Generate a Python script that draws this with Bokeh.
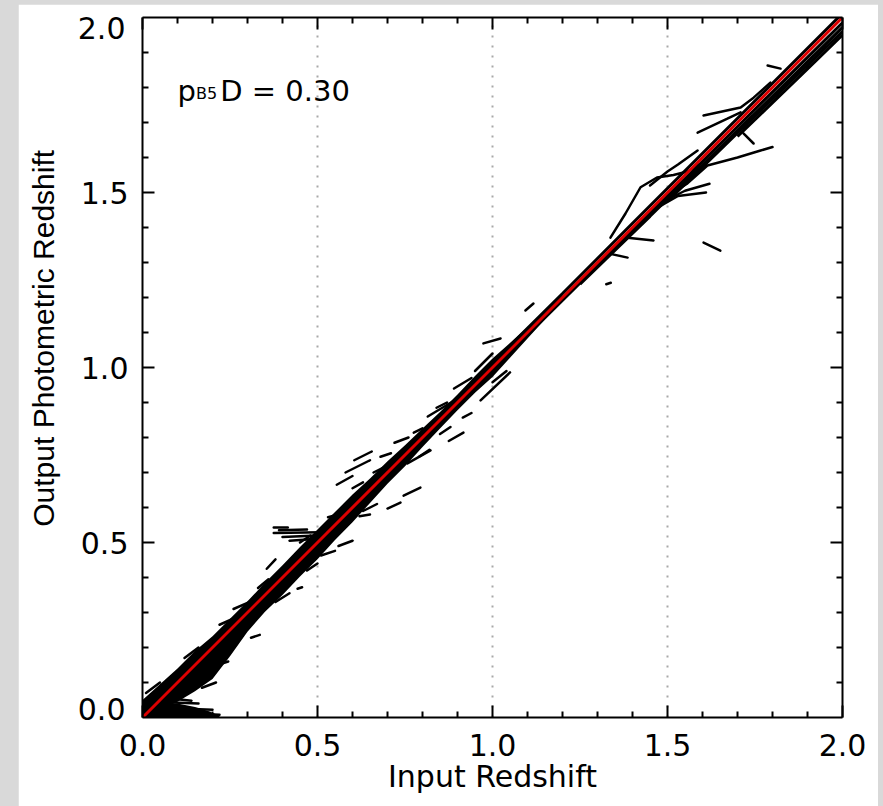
from bokeh.plotting import figure
from bokeh.models import (LinearAxis, FixedTicker, NumeralTickFormatter, Label,
                          CustomJSTickFormatter, Range1d)
from bokeh.layouts import column
from bokeh.embed import file_html
from bokeh.resources import INLINE

# ---------------- data ----------------
x_major = [0.0, 0.5, 1.0, 1.5, 2.0]
x_minor = [0.1, 0.2, 0.3, 0.4, 0.6, 0.7, 0.8, 0.9, 1.1, 1.2, 1.3, 1.4, 1.6, 1.7, 1.8, 1.9]
y_major = [0.5, 1.0, 1.5]
y_minor = [0.1, 0.2, 0.3, 0.4, 0.6, 0.7, 0.8, 0.9, 1.1, 1.2, 1.3, 1.4, 1.6, 1.7, 1.8, 1.9]
grid_x = [0.5, 1.0, 1.5]

# one-to-one reference line
diag_x = [0.0, 2.0]
diag_y = [0.0, 2.0]

# dense scatter band (upper / lower envelope)
band_x = [0.00, 0.05, 0.10, 0.15, 0.20, 0.25, 0.30, 0.35, 0.40, 0.45, 0.50, 0.55, 0.60,
          0.65, 0.70, 0.75, 0.80, 0.85, 0.90, 0.95, 1.00, 1.05, 1.10, 1.15, 1.20]
band_upper = [0.05, 0.095, 0.14, 0.19, 0.232, 0.282, 0.332, 0.385, 0.435, 0.487, 0.537, 0.587, 0.637,
              0.683, 0.732, 0.778, 0.826, 0.873, 0.923, 0.976, 1.026, 1.07, 1.115, 1.16, 1.207]
band_lower = [0.00, 0.02, 0.045, 0.075, 0.11, 0.175, 0.245, 0.302, 0.35, 0.403, 0.452, 0.507, 0.558,
              0.613, 0.668, 0.718, 0.773, 0.826, 0.878, 0.928, 0.973, 1.028, 1.083, 1.138, 1.192]

# low-redshift fan of outliers near zero output
fan_x = [0.00, 0.05, 0.10, 0.15, 0.19, 0.22]
fan_top = [0.035, 0.04, 0.04, 0.03, 0.018, 0.005]
fan_bottom = [0.0, 0.0, 0.0, 0.0, 0.0, 0.0]

# isolated streaks (x0, y0) -> (x1, y1)
seg_x0 = [0.01, 0.22, 0.26, 0.355, 0.31, 0.22, 0.443, 0.51, 0.375, 0.375, 0.40, 0.555, 0.58, 0.605,
          0.70, 0.746, 0.757, 0.875, 0.915, 0.72, 0.775, 0.815, 0.966, 1.094, 0.974, 0.89,
          1.325, 1.386, 1.33, 1.603, 1.717, 1.786, 0.62, 0.56,
          0.03, 0.05, 0.07, 0.10, 0.12, 0.17, 0.33, 0.38, 0.45, 0.47, 0.60, 0.63, 0.66, 0.84, 0.85,
          0.95, 1.00, 0.42, 0.39, 0.53, 0.68, 0.79]
seg_y0 = [0.07, 0.265, 0.31, 0.425, 0.228, 0.152, 0.368, 0.463, 0.543, 0.527, 0.516, 0.665, 0.70, 0.735,
          0.597, 0.634, 0.726, 0.79, 0.857, 0.785, 0.814, 0.86, 0.906, 1.163, 1.069, 0.94,
          1.238, 1.371, 1.326, 1.357, 1.669, 1.863, 0.575, 0.49,
          0.045, 0.028, 0.014, 0.052, 0.17, 0.085, 0.37, 0.33, 0.50, 0.42, 0.655, 0.59, 0.70, 0.885, 0.81,
          0.99, 0.958, 0.505, 0.535, 0.572, 0.745, 0.745]
seg_x1 = [0.05, 0.28, 0.31, 0.38, 0.335, 0.245, 0.456, 0.55, 0.415, 0.51, 0.50, 0.60, 0.65, 0.655,
          0.737, 0.794, 0.823, 0.917, 0.94, 0.76, 0.80, 0.89, 1.05, 1.117, 1.023, 0.94,
          1.338, 1.46, 1.386, 1.651, 1.746, 1.823, 0.65, 0.60,
          0.16, 0.20, 0.22, 0.14, 0.16, 0.21, 0.36, 0.42, 0.48, 0.50, 0.63, 0.67, 0.69, 0.87, 0.88,
          1.00, 1.04, 0.49, 0.47, 0.56, 0.71, 0.82]
seg_y1 = [0.10, 0.292, 0.332, 0.452, 0.236, 0.16, 0.372, 0.476, 0.543, 0.529, 0.52, 0.69, 0.735, 0.76,
          0.614, 0.657, 0.763, 0.814, 0.87, 0.80, 0.826, 0.905, 0.986, 1.183, 1.083, 0.97,
          1.242, 1.363, 1.314, 1.334, 1.64, 1.854, 0.58, 0.505,
          0.04, 0.022, 0.008, 0.048, 0.2, 0.1, 0.395, 0.355, 0.52, 0.44, 0.672, 0.61, 0.715, 0.9, 0.83,
          1.04, 0.99, 0.51, 0.537, 0.58, 0.755, 0.765]

# high-redshift tracks and branches
track_xs = [
    [1.05, 1.20, 1.40, 1.60, 1.80, 2.00],
    [1.10, 1.30, 1.50, 1.70, 1.90, 2.00],
    [1.25, 1.45, 1.65, 1.85, 2.00],
    [1.50, 1.70, 1.90, 2.00],
    [1.70, 1.90, 2.00],
]
track_ys = [
    [1.063, 1.211, 1.412, 1.612, 1.812, 2.012],
    [1.093, 1.291, 1.490, 1.688, 1.886, 1.985],
    [1.238, 1.432, 1.628, 1.824, 1.972],
    [1.475, 1.670, 1.864, 1.960],
    [1.660, 1.853, 1.950],
]
branch_xs = [
    [1.337, 1.38, 1.423, 1.47, 1.517, 1.557, 1.59],
    [1.45, 1.50, 1.53, 1.586],
    [1.586, 1.671, 1.709],
    [1.603, 1.709, 1.746, 1.794],
    [1.50, 1.557, 1.614, 1.70, 1.766, 1.80],
    [1.46, 1.53, 1.61],
    [1.48, 1.55, 1.62],
]
branch_ys = [
    [1.371, 1.44, 1.515, 1.543, 1.55, 1.56, 1.58],
    [1.52, 1.56, 1.58, 1.62],
    [1.671, 1.711, 1.729],
    [1.72, 1.743, 1.771, 1.814],
    [1.49, 1.526, 1.577, 1.60, 1.62, 1.63],
    [1.45, 1.49, 1.50],
    [1.47, 1.505, 1.525],
]

# ---------------- figure ----------------
FONT_H = "DejaVu Sans"        # horizontal texts (the original is horizontally widened)
FONT_V = "Liberation Sans"    # rotated y-axis title

p = figure(width=860, height=802, x_range=(0, 2), y_range=(0, 2),
           output_backend="svg", toolbar_location=None,
           min_border_left=124, min_border_right=36, min_border_top=13, min_border_bottom=89,
           border_fill_color="white", background_fill_color="white",
           outline_line_color=None, x_axis_location=None, y_axis_location=None)
p.margin = (4, 5, 0, 18)

# the end labels (0.0 / 2.0) of the y axis are pulled inside the frame span in the original;
# they come from a label-only axis on a slightly shifted copy of the y range
p.extra_y_ranges = {"yend": Range1d(start=0.0286, end=2.0286)}

p.ygrid.visible = False
p.xgrid.ticker = FixedTicker(ticks=grid_x)
p.xgrid.grid_line_color = "#a8a8a8"
p.xgrid.grid_line_width = 2
p.xgrid.grid_line_dash = "2 8"


def style_axis(ax, show_labels):
    ax.major_tick_in = 12
    ax.major_tick_out = 0
    ax.minor_tick_in = 6
    ax.minor_tick_out = 0
    ax.axis_line_width = 2
    ax.major_tick_line_width = 2
    ax.minor_tick_line_width = 2
    ax.axis_line_color = "black"
    ax.major_tick_line_color = "black"
    ax.minor_tick_line_color = "black"
    ax.major_label_text_font = FONT_H
    ax.major_label_text_color = "black"
    ax.major_label_text_font_size = "30px"
    ax.axis_label_text_font = FONT_H
    ax.axis_label_text_font_style = "normal"
    ax.axis_label_text_color = "black"
    ax.axis_label_text_font_size = "30px"
    if show_labels:
        ax.formatter = NumeralTickFormatter(format="0.0")
    else:
        ax.formatter = CustomJSTickFormatter(code="return '';")
        ax.major_label_standoff = 0


bottom = LinearAxis(ticker=FixedTicker(ticks=x_major, minor_ticks=x_minor), axis_label="Input Redshift")
left = LinearAxis(ticker=FixedTicker(ticks=y_major, minor_ticks=y_minor))
top = LinearAxis(ticker=FixedTicker(ticks=x_major, minor_ticks=x_minor))
right = LinearAxis(ticker=FixedTicker(ticks=y_major, minor_ticks=y_minor))
style_axis(bottom, True)
style_axis(left, True)
style_axis(top, False)
style_axis(right, False)
bottom.major_label_standoff = 16
bottom.axis_label_standoff = 0
left.major_label_standoff = 14

# second (outer) left axis: only the two end labels, pulled back beside the inner labels,
# and the axis title
end_axis = LinearAxis(y_range_name="yend",
                      ticker=FixedTicker(ticks=[0.0543, 2.0], minor_ticks=[]),
                      formatter=CustomJSTickFormatter(code="return tick > 1 ? '2.0' : '0.0';"),
                      axis_label="\u00a0" * 7 + "Output Photometric Redshift")
end_axis.axis_line_color = None
end_axis.major_tick_line_color = None
end_axis.minor_tick_line_color = None
end_axis.major_tick_in = 0
end_axis.major_tick_out = 0
end_axis.major_label_standoff = -48
end_axis.major_label_text_font = FONT_H
end_axis.major_label_text_font_size = "30px"
end_axis.major_label_text_color = "black"
end_axis.axis_label_text_font = FONT_V
end_axis.axis_label_text_font_style = "normal"
end_axis.axis_label_text_color = "black"
end_axis.axis_label_text_font_size = "30px"
end_axis.axis_label_standoff = 15

p.add_layout(bottom, "below")
p.add_layout(left, "left")
p.add_layout(end_axis, "left")
p.add_layout(top, "above")
p.add_layout(right, "right")

INK = "black"
p.varea(x=band_x, y1=band_lower, y2=band_upper, fill_color=INK)
p.varea(x=fan_x, y1=fan_bottom, y2=fan_top, fill_color=INK)
p.segment(x0=seg_x0, y0=seg_y0, x1=seg_x1, y1=seg_y1, line_color=INK, line_width=2.5, line_cap="round")
p.multi_line(xs=track_xs, ys=track_ys, line_color=INK, line_width=3)
p.multi_line(xs=branch_xs, ys=branch_ys, line_color=INK, line_width=2.5, line_cap="round")
p.line(diag_x, diag_y, line_color="#dd0000", line_width=3)

# annotation  p_B5 D = 0.30
lab_kw = dict(text_font=FONT_H, text_color="black", text_baseline="alphabetic", text_align="left")
p.add_layout(Label(x=0.100, y=1.789, text="p", text_font_size="29px", **lab_kw))
p.add_layout(Label(x=0.153, y=1.783, text="B5", text_font_size="16px", **lab_kw))
p.add_layout(Label(x=0.222, y=1.789, text="D = 0.30", text_font_size="29px", **lab_kw))

root = column(p, styles={"background-color": "#d9d9d9"})

open("out.html", "w").write(file_html(root, INLINE))
